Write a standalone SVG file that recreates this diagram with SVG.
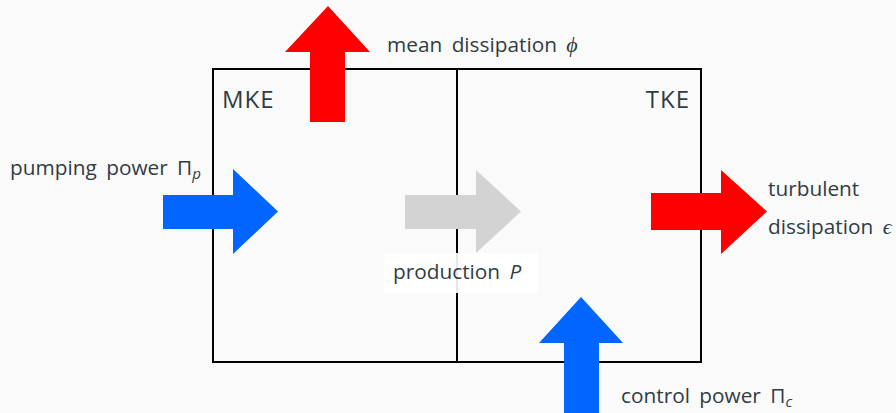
<svg xmlns="http://www.w3.org/2000/svg" width="896" height="413" viewBox="0 0 896 413">
<style>
text{font-family:"Open Sans","DejaVu Sans",sans-serif;fill:#2f3d45;font-size:20.8px;word-spacing:4px}
.big{font-size:24px;letter-spacing:1px}
.m{font-family:"Liberation Serif",serif;font-style:italic;font-size:22px}
.it{font-style:italic}
.box{fill:none;stroke:#000;stroke-width:2}
</style>
<rect width="896" height="413" fill="#fafafa"/>
<g id="box">
<rect class="box" x="213" y="69" width="488" height="293"/>
<line class="box" x1="457" y1="69" x2="457" y2="362"/>
</g>
<g id="mke"><text class="big" x="222" y="108">MKE</text></g>
<g id="tke"><text class="big" x="690" y="108" text-anchor="end">TKE</text></g>
<g id="connectors">
<g id="mean-dissipation">
<polygon fill="#ff0000" points="310,122 310,52 285,52 328,6 370,52 345,52 345,122"/>
<text x="387" y="52">mean dissipation <tspan class="m">ϕ</tspan></text>
</g>
<g id="pumping">
<polygon fill="#0066ff" points="163,195 233,195 233,169 278,211.5 233,254 233,229 163,229"/>
<text x="10" y="175">pumping power Π<tspan class="it" font-size="15" dy="4">p</tspan></text>
</g>
<g id="production">
<polygon fill="#d3d3d3" points="405,195 476,195 476,170 521,211.5 476,253 476,229 405,229"/>
<rect x="384" y="253" width="154" height="40" fill="#ffffff" opacity="0.9"/>
<text x="393" y="279">production <tspan class="it">P</tspan></text>
</g>
<g id="turbulent">
<polygon fill="#ff0000" points="651,193 721,193 721,170 767,211.5 721,254 721,230 651,230"/>
<text x="768" y="196">turbulent</text>
<text x="768" y="234">dissipation <tspan class="m">ϵ</tspan></text>
</g>
<g id="control">
<polygon fill="#0066ff" points="564,413 564,343 539,343 581,297 623,343 599,343 599,413"/>
<text x="621" y="403">control power Π<tspan class="it" font-size="15" dy="4">c</tspan></text>
</g>
</g>
</svg>
